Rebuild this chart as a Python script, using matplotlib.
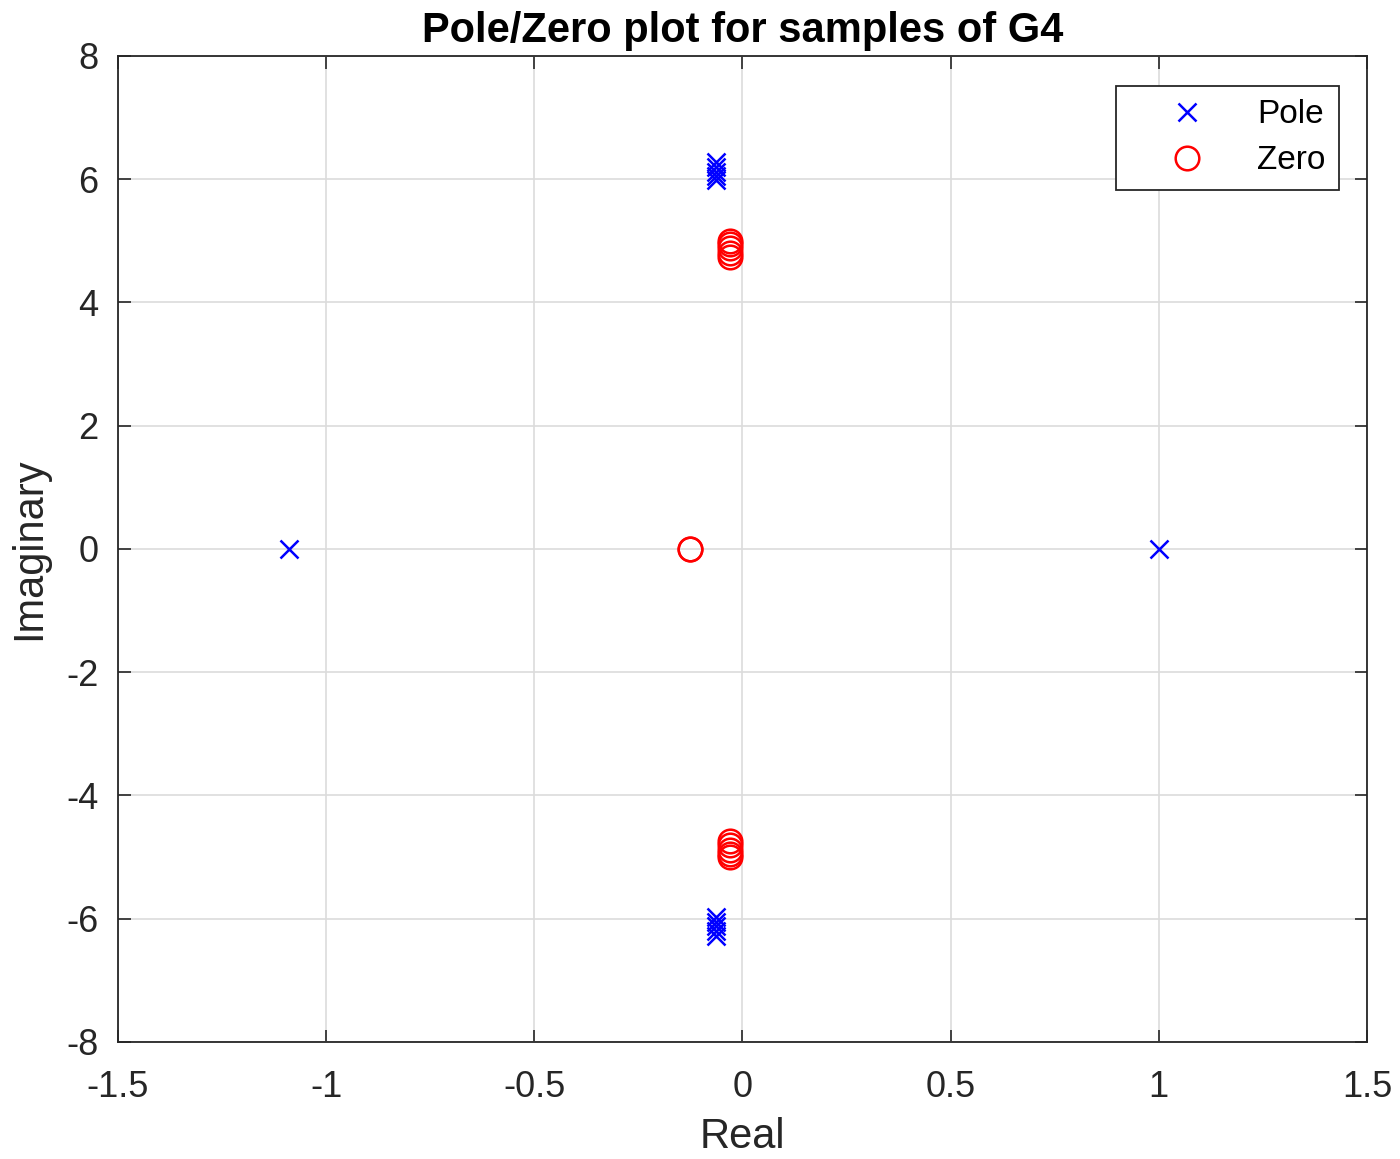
import matplotlib
matplotlib.use("Agg")
import matplotlib.pyplot as plt
import numpy as np

plt.rcParams['font.family'] = ['Liberation Sans', 'DejaVu Sans']

# Pole locations across samples (real, imaginary)
pole_real = [-1.09, 1.0,
             -0.064, -0.064, -0.064, -0.064, -0.064,
             -0.064, -0.064, -0.064, -0.064, -0.064]
pole_imag = [0.0, 0.0,
             5.98, 6.05, 6.12, 6.20, 6.28,
             -5.98, -6.05, -6.12, -6.20, -6.28]

# Zero locations across samples (real, imaginary)
zero_real = [-0.125, -0.125,
             -0.03, -0.03, -0.03, -0.03, -0.03,
             -0.03, -0.03, -0.03, -0.03, -0.03]
zero_imag = [0.0, 0.0,
             4.74, 4.81, 4.88, 4.95, 5.00,
             -4.74, -4.81, -4.88, -4.95, -5.00]

fig = plt.figure(figsize=(14, 11.59), dpi=100)
ax = fig.add_axes([0.0843, 0.101, 0.8921, 0.8507])

ax.plot(pole_real, pole_imag, linestyle='none', marker='x', color='blue',
        markersize=13, markeredgewidth=1.8, label='Pole')
ax.plot(zero_real, zero_imag, linestyle='none', marker='o', color='red',
        markerfacecolor='none', markersize=17, markeredgewidth=1.8, label='Zero')

ax.set_xlim(-1.5, 1.5)
ax.set_ylim(-8, 8)
ax.set_xticks(np.arange(-1.5, 1.51, 0.5))
ax.set_yticks(np.arange(-8, 8.1, 2))
ax.set_xticklabels(['-1.5', '-1', '-0.5', '0', '0.5', '1', '1.5'])
ax.set_yticklabels(['-8', '-6', '-4', '-2', '0', '2', '4', '6', '8'])

ax.grid(True, color='#dcdcdc', linewidth=1.2)
ax.set_axisbelow(True)
ax.tick_params(direction='in', length=9, width=1.2, top=True, right=True,
               labelsize=26, colors='#262626')
ax.tick_params(axis='x', pad=20)
ax.tick_params(axis='y', pad=14)
for s in ax.spines.values():
    s.set_color('#262626')
    s.set_linewidth(1.3)

ax.set_xlabel('Real', fontsize=30, color='#262626', labelpad=9)
ax.set_ylabel('Imaginary', fontsize=30, color='#262626', labelpad=12)
ax.set_title('Pole/Zero plot for samples of G4', fontsize=30, fontweight='bold',
             pad=10)

leg = ax.legend(loc='upper right', fontsize=24, frameon=True, fancybox=False,
                edgecolor='#262626', framealpha=1,
                bbox_to_anchor=(0.9776, 0.9697),
                borderaxespad=0.0, handletextpad=0.35, handlelength=3.5,
                labelspacing=0.45, borderpad=0.4, markerfirst=True)
leg.get_frame().set_linewidth(1.3)

fig.savefig('out.png', dpi=100)
